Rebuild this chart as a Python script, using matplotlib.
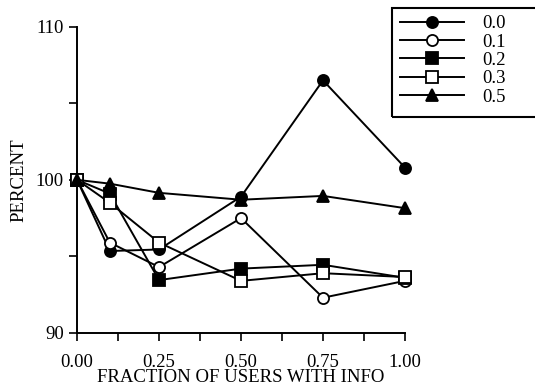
import numpy as np
import matplotlib.pyplot as plt
from matplotlib.patches import Rectangle

plt.rcParams['font.family'] = ['Liberation Serif', 'DejaVu Serif']

# fraction of users with info
frac = [0.0, 0.1, 0.25, 0.5, 0.75, 1.0]

# percent, one series per legend entry
p00 = [100.0, 95.35, 95.45, 98.9, 106.5, 100.8]
p01 = [100.0, 95.9, 94.3, 97.5, 92.3, 93.4]
p02 = [100.0, 99.1, 93.45, 94.2, 94.45, 93.6]
p03 = [100.0, 98.5, 95.9, 93.4, 93.9, 93.65]
p05 = [100.0, 99.75, 99.15, 98.7, 98.95, 98.15]

labels = ['0.0', '0.1', '0.2', '0.3', '0.5']
series = [p00, p01, p02, p03, p05]
markers = ['o', 'o', 's', 's', '^']
faces = ['black', 'white', 'black', 'white', 'black']

W, H = 535, 388
fig = plt.figure(figsize=(W / 100, H / 100), dpi=100)
ax = fig.add_axes([0.144, 0.142, 0.613, 0.789])

for y, lab, m, fc in zip(series, labels, markers, faces):
    ax.plot(frac, y, color='black', lw=1.4, marker=m, markersize=8,
            markerfacecolor=fc, markeredgecolor='black', markeredgewidth=1.3,
            label=lab, clip_on=False)

ax.set_xlim(0, 1)
ax.set_ylim(90, 110)
ax.set_xticks([0, 0.25, 0.5, 0.75, 1.0])
ax.set_xticklabels(['0.00', '0.25', '0.50', '0.75', '1.00'])
ax.set_xticks(np.arange(0.125, 1, 0.25), minor=True)
ax.set_yticks([90, 100, 110])
ax.set_yticks([95, 105], minor=True)
ax.spines['top'].set_visible(False)
ax.spines['right'].set_visible(False)
for s in ['left', 'bottom']:
    ax.spines[s].set_linewidth(1.4)
ax.tick_params(which='both', direction='out', width=1.2, labelsize=13.5,
               color='black', length=6)
ax.tick_params(axis='x', which='major', pad=9)
ax.set_xlabel('FRACTION OF USERS WITH INFO', fontsize=13.5, labelpad=-1)
ax.set_ylabel('PERCENT', fontsize=13.5, labelpad=6)

# legend box runs off the right edge, as in the original
fig.patches.append(Rectangle((392 / W, 1 - 117 / H), 160 / W, 109 / H,
                             transform=fig.transFigure, fill=False,
                             edgecolor='black', lw=1.5, clip_on=False))
leg = fig.legend(loc='upper left', bbox_to_anchor=(400 / W, 1 - 15 / H),
                 frameon=False, fontsize=13.5,
                 handlelength=3.4, handletextpad=1.0, labelspacing=0.067,
                 borderpad=0, borderaxespad=0)

fig.savefig('out.png', dpi=100)
